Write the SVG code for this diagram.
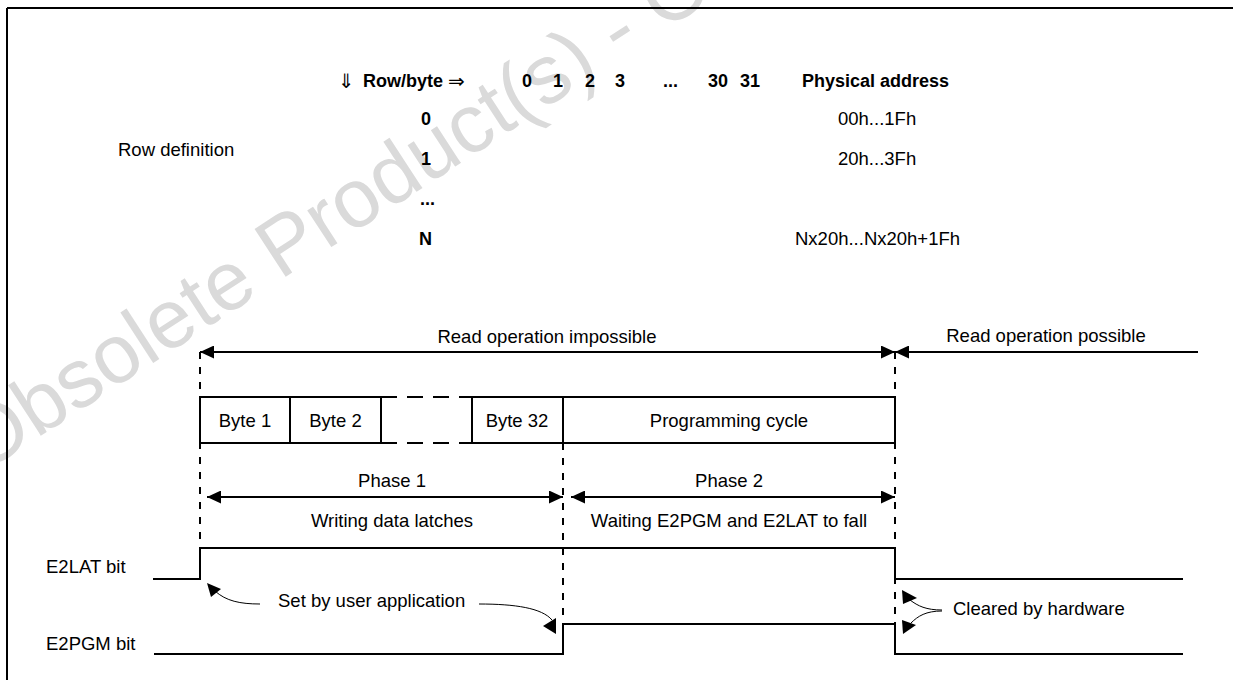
<svg xmlns="http://www.w3.org/2000/svg" width="1233" height="680" viewBox="0 0 1233 680">
<defs>
<style>
text{font-family:"Liberation Sans",Arial,sans-serif;font-size:18.5px;fill:#000}
.b{font-weight:bold;font-size:18px}
.m{text-anchor:middle}
.sym{font-family:"DejaVu Sans",sans-serif;font-weight:normal;font-size:20px}
.wm{font-size:83px;fill:#dadada}
.ln{stroke:#000;stroke-width:2;fill:none}
.dash{stroke:#000;stroke-width:2;fill:none;stroke-dasharray:7 8}
.thin{stroke:#000;stroke-width:1;fill:none}
.box{stroke:#000;stroke-width:2;fill:#fff}
</style>
<marker id="ah" viewBox="0 0 14 13" refX="14" refY="6.5" markerWidth="14" markerHeight="13" markerUnits="userSpaceOnUse" orient="auto-start-reverse"><path d="M0,0 L14,6.5 L0,13 Z" fill="#000"/></marker>
</defs>
<rect width="1233" height="680" fill="#fff"/>
<g id="watermark"><text class="wm" transform="translate(-18,474) rotate(-33)">Obsolete Product(s) - Obsolete</text></g>
<g id="frame"><path class="ln" d="M7,8 H1233 M7,8 V680"/></g>

<g id="table">
<text x="338" y="88" class="sym">⇓</text>
<text x="363" y="87" class="b">Row/byte</text>
<text x="448" y="88" class="sym">⇒</text>
<text x="522" y="87" class="b">0</text>
<text x="553" y="87" class="b">1</text>
<text x="585" y="87" class="b">2</text>
<text x="615" y="87" class="b">3</text>
<text x="663" y="87" class="b">...</text>
<text x="708" y="87" class="b">30</text>
<text x="740" y="87" class="b">31</text>
<text x="802" y="87" class="b">Physical address</text>
<text x="421" y="125" class="b">0</text>
<text x="421" y="165" class="b">1</text>
<text x="420" y="205" class="b">...</text>
<text x="419" y="245" class="b">N</text>
<text x="118" y="156">Row definition</text>
<text x="838" y="125">00h...1Fh</text>
<text x="838" y="165">20h...3Fh</text>
<text x="795" y="245">Nx20h...Nx20h+1Fh</text>
</g>

<g id="connectors">
<path class="dash" d="M200,352 V548 M563,443 V624 M895,352 V624"/>
<line class="ln" x1="200" y1="352" x2="895" y2="352" marker-start="url(#ah)" marker-end="url(#ah)"/>
<line class="ln" x1="1198" y1="352" x2="895" y2="352" marker-end="url(#ah)"/>
<line class="ln" x1="207" y1="497" x2="563" y2="497" marker-start="url(#ah)" marker-end="url(#ah)"/>
<line class="ln" x1="571" y1="497" x2="895" y2="497" marker-start="url(#ah)" marker-end="url(#ah)"/>
<path class="thin" d="M260,604 C240,604 226,601 215,591"/>
<polygon points="207,583 221,589 211,597"/>
<path class="thin" d="M479,604 C515,604 542,608 552,620"/>
<polygon points="543,626 556,618 556,634"/>
<path class="thin" d="M942,610 C926,610 918,606 910,600"/>
<polygon points="902,590 903,604 917,598"/>
<path class="thin" d="M942,611 C926,611 918,616 911,623"/>
<polygon points="903,634 902,620 916,625"/>
</g>

<g id="labels">
<text x="547" y="343" class="m">Read operation impossible</text>
<text x="1046" y="342" class="m">Read operation possible</text>
<text x="392" y="487" class="m">Phase 1</text>
<text x="392" y="527" class="m">Writing data latches</text>
<text x="729" y="487" class="m">Phase 2</text>
<text x="729" y="527" class="m">Waiting E2PGM and E2LAT to fall</text>
<text x="278" y="607">Set by user application</text>
<text x="953" y="615">Cleared by hardware</text>
</g>

<g id="byte1"><path class="box" d="M200,397 H290 V443 H200 Z"/><text x="245" y="427" class="m">Byte 1</text></g>
<g id="byte2"><path class="box" d="M290,397 H381 V443 H290 Z"/><text x="335.5" y="427" class="m">Byte 2</text></g>
<g id="bytes-gap"><path class="ln" d="M381,397 H472 M381,443 H472" stroke-dasharray="16 10"/></g>
<g id="byte32"><path class="box" d="M472,397 H563 V443 H472 Z"/><text x="517" y="427" class="m">Byte 32</text></g>
<g id="prog-cycle"><path class="box" d="M563,397 H895 V443 H563 Z"/><text x="729" y="427" class="m">Programming cycle</text></g>

<g id="e2lat"><text x="46" y="573">E2LAT bit</text><path class="ln" d="M153,579 H200 V548 H895 V579 H1183"/></g>
<g id="e2pgm"><text x="46" y="650">E2PGM bit</text><path class="ln" d="M154,654 H563 V624 H895 V654 H1183"/></g>
</svg>
